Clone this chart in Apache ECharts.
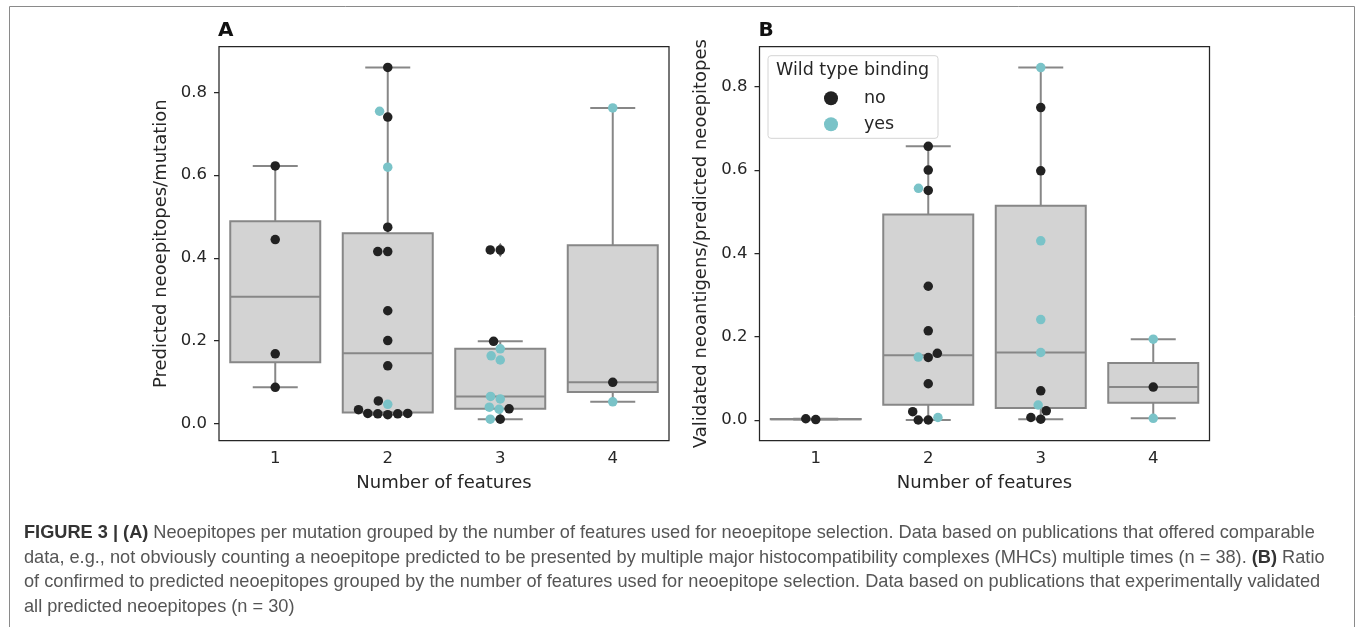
<!DOCTYPE html>
<html><head><meta charset="utf-8">
<script src="https://cdn.jsdelivr.net/npm/echarts@6/dist/echarts.min.js"></script>
<style>html,body{margin:0;padding:0;background:#fff}#c{width:1357px;height:627px}</style>
</head><body><div id="c"></div>
<script>
// ---------- data ----------
const categories = ['1', '2', '3', '4'];
const yTicks = [0, 0.2, 0.4, 0.6, 0.8];
const legendNames = ['no', 'yes'];   // wild type binding
// Panel A: predicted neoepitopes / mutation, per number of features
const panelA_no = [
  [0.622, 0.444, 0.168, 0.087],
  [0.860, 0.740, 0.474, 0.415, 0.415, 0.272, 0.200, 0.139, 0.054, 0.021, 0.023, 0.023, 0.024, 0.024, 0.033],
  [0.419, 0.419, 0.198, 0.035, 0.010],
  [0.099]
];
const panelA_yes = [
  [],
  [0.754, 0.619, 0.046],
  [0.180, 0.163, 0.153, 0.065, 0.059, 0.034, 0.039, 0.010],
  [0.762, 0.052]
];
// Panel B: validated neoantigens / predicted neoepitopes
const panelB_no = [
  [0.001, 0.003],
  [0.657, 0.600, 0.551, 0.321, 0.214, 0.160, 0.150, 0.087, 0.020, 0.000, 0.000],
  [0.750, 0.598, 0.070, 0.022, 0.006, 0.002],
  [0.079]
];
const panelB_yes = [
  [],
  [0.556, 0.151, 0.006],
  [0.846, 0.430, 0.241, 0.162, 0.036],
  [0.194, 0.004]
];
const captionLines = [
  '{b|FIGURE 3 | (A)} Neoepitopes per mutation grouped by the number of features used for neoepitope selection. Data based on publications that offered comparable',
  'data, e.g., not obviously counting a neoepitope predicted to be presented by multiple major histocompatibility complexes (MHCs) multiple times (n = 38). {b|(B)} Ratio',
  'of confirmed to predicted neoepitopes grouped by the number of features used for neoepitope selection. Data based on publications that experimentally validated',
  'all predicted neoepitopes (n = 30)'
];

// ---------- layout / style ----------
const GRID_W = 450, GRID_H = 394, GRID_TOP = 46.7;
const GRID_A_LEFT = 219, GRID_B_LEFT = 759.5;
const Y_A = [-0.042, 0.910], Y_B = [-0.0497, 0.896];
const PX_PER_CAT = GRID_W / 4;
const SWARM_D = 10, DOT = 9.5;
const C_NO = '#222222', C_YES = '#7ac3c8', BOX_FILL = '#d3d3d3', BOX_EDGE = '#878787';
const TXT = '#262626', FONT = 'DejaVu Sans';

// ---------- helpers ----------
function quantile(s, p) { const h = (s.length - 1) * p, lo = Math.floor(h), hi = Math.ceil(h); return s[lo] + (s[hi] - s[lo]) * (h - lo); }
function boxStats(vals) {
  const s = [...vals].sort((a, b) => a - b);
  const q1 = quantile(s, .25), med = quantile(s, .5), q3 = quantile(s, .75), iqr = q3 - q1;
  const lo = s.find(v => v >= q1 - 1.5 * iqr);
  const hi = [...s].reverse().find(v => v <= q3 + 1.5 * iqr);
  return { q1, med, q3, lo, hi, out: s.filter(v => v < lo || v > hi) };
}
function swarm(points, pxPerUnit, d) {
  const order = points.map((p, i) => i).sort((a, b) => points[a].v - points[b].v || a - b);
  const placed = [], out = new Array(points.length);
  for (const i of order) {
    const y = points[i].v * pxPerUnit;
    const cands = [0];
    for (const q of placed) {
      const dy = Math.abs(q.y - y);
      if (dy < d) { const dx = Math.sqrt(d * d - dy * dy); cands.push(q.x - dx, q.x + dx); }
    }
    cands.sort((a, b) => Math.abs(a) - Math.abs(b) || a - b);
    let chosen = 0;
    for (const c of cands) {
      if (placed.every(q => (q.x - c) ** 2 + (q.y - y) ** 2 >= d * d - 1e-6)) { chosen = c; break; }
    }
    placed.push({ x: chosen, y }); out[i] = chosen;
  }
  return out;
}
function buildPanel(noArr, yesArr, yr) {
  const pxPerUnit = GRID_H / (yr[1] - yr[0]);
  const no = [], yes = [], boxes = [], outliers = [];
  for (let c = 0; c < categories.length; c++) {
    const pts = noArr[c].map(v => ({ v, h: 0 })).concat(yesArr[c].map(v => ({ v, h: 1 })));
    const offs = swarm(pts, pxPerUnit, SWARM_D);
    pts.forEach((p, i) => (p.h ? yes : no).push([c + 1 + offs[i] / PX_PER_CAT, p.v]));
    const st = boxStats(pts.map(p => p.v));
    boxes.push([c + 1, st.lo, st.q1, st.med, st.q3, st.hi]);
    st.out.forEach(v => outliers.push([c + 1, v]));
  }
  return { no, yes, boxes, outliers };
}
const A = buildPanel(panelA_no, panelA_yes, Y_A);
const B = buildPanel(panelB_no, panelB_yes, Y_B);

function renderBox(params, api) {
  const x = api.value(0);
  const pLo = api.coord([x, api.value(1)]), pQ1 = api.coord([x, api.value(2)]), pMed = api.coord([x, api.value(3)]);
  const pQ3 = api.coord([x, api.value(4)]), pHi = api.coord([x, api.value(5)]);
  const hw = api.size([0.4, 0])[0], cw = api.size([0.2, 0])[0], cx = pMed[0];
  const st = { stroke: BOX_EDGE, lineWidth: 2, fill: null };
  return { type: 'group', children: [
    { type: 'line', shape: { x1: cx, y1: pQ3[1], x2: cx, y2: pHi[1] }, style: st },
    { type: 'line', shape: { x1: cx, y1: pQ1[1], x2: cx, y2: pLo[1] }, style: st },
    { type: 'line', shape: { x1: cx - cw, y1: pHi[1], x2: cx + cw, y2: pHi[1] }, style: st },
    { type: 'line', shape: { x1: cx - cw, y1: pLo[1], x2: cx + cw, y2: pLo[1] }, style: st },
    { type: 'rect', shape: { x: cx - hw, y: pQ3[1], width: 2 * hw, height: pQ1[1] - pQ3[1] }, style: { fill: BOX_FILL, stroke: BOX_EDGE, lineWidth: 2 } },
    { type: 'line', shape: { x1: cx - hw, y1: pMed[1], x2: cx + hw, y2: pMed[1] }, style: st }
  ]};
}

const tickText = { fontFamily: FONT, fontSize: 16.5, color: TXT };
const nameText = { fontFamily: FONT, fontSize: 18, color: TXT };
function catAxis(gi) {
  return { type: 'category', gridIndex: gi, data: categories, name: 'Number of features', nameLocation: 'middle', nameGap: 34,
    nameTextStyle: nameText, axisLine: { show: false }, axisTick: { alignWithLabel: true, length: 5, lineStyle: { color: TXT, width: 1.25 } },
    axisLabel: Object.assign({ margin: 10 }, tickText), splitLine: { show: false } };
}
function valXAxis(gi) { return { type: 'value', gridIndex: gi, min: 0.5, max: 4.5, show: false }; }
function yAxis(gi, yr, name) {
  return { type: 'value', gridIndex: gi, min: yr[0], max: yr[1], name, nameLocation: 'middle', nameGap: 49, nameTextStyle: nameText,
    axisLine: { show: false }, splitLine: { show: false },
    axisTick: { show: true, customValues: yTicks, length: 5, lineStyle: { color: TXT, width: 1.25 } },
    axisLabel: Object.assign({ customValues: yTicks, margin: 12, formatter: v => v.toFixed(1) }, tickText) };
}
function panelSeries(P, xi, yi) {
  return [
    { type: 'custom', xAxisIndex: xi, yAxisIndex: yi, renderItem: renderBox, data: P.boxes, encode: { x: 0, y: [1, 2, 3, 4, 5] }, z: 1, silent: true },
    { type: 'scatter', xAxisIndex: xi, yAxisIndex: yi, data: P.outliers, symbol: 'diamond', symbolSize: [9, 14], itemStyle: { color: '#6a6a6a' }, z: 2, silent: true },
    { type: 'scatter', name: legendNames[0], xAxisIndex: xi, yAxisIndex: yi, data: P.no, symbolSize: DOT, itemStyle: { color: C_NO, opacity: 1 }, z: 3 },
    { type: 'scatter', name: legendNames[1], xAxisIndex: xi, yAxisIndex: yi, data: P.yes, symbolSize: DOT, itemStyle: { color: C_YES, opacity: 1 }, z: 3 }
  ];
}

const chart = echarts.init(document.getElementById('c'), null, { renderer: 'canvas', width: 1357, height: 627 });
const gridStyle = { show: true, borderColor: TXT, borderWidth: 1.25, backgroundColor: 'transparent', containLabel: false };
chart.setOption({
  animation: false,
  textStyle: { fontFamily: FONT },
  grid: [
    Object.assign({ left: GRID_A_LEFT, top: GRID_TOP, width: GRID_W, height: GRID_H }, gridStyle),
    Object.assign({ left: GRID_B_LEFT, top: GRID_TOP, width: GRID_W, height: GRID_H }, gridStyle)
  ],
  xAxis: [catAxis(0), valXAxis(0), catAxis(1), valXAxis(1)],
  yAxis: [yAxis(0, Y_A, 'Predicted neoepitopes/mutation'), yAxis(1, Y_B, 'Validated neoantigens/predicted neoepitopes')],
  legend: {
    data: legendNames, orient: 'vertical', left: 824, top: 87.7, padding: 0, itemGap: 5, itemWidth: 52, itemHeight: 14,
    icon: 'circle', selectedMode: false, z: 20,
    textStyle: { fontFamily: FONT, fontSize: 17.5, color: TXT, lineHeight: 21, padding: [0, 0, 0, 2] }
  },
  graphic: [
    { type: 'polyline', silent: true, shape: { points: [[9.5, 627], [9.5, 6.5], [1354.5, 6.5], [1354.5, 627]] }, style: { stroke: '#8a8a8a', lineWidth: 1, fill: null } },
    { type: 'text', x: GRID_A_LEFT - 1, y: 31, style: { text: 'A', font: 'bold 20px "DejaVu Sans"', fill: '#111', verticalAlign: 'middle' } },
    { type: 'text', x: GRID_B_LEFT - 1, y: 31, style: { text: 'B', font: 'bold 20px "DejaVu Sans"', fill: '#111', verticalAlign: 'middle' } },
    { type: 'rect', z: 10, shape: { x: 768, y: 55.7, width: 170, height: 82.6, r: 3 }, style: { fill: 'rgba(255,255,255,0.85)', stroke: '#d4d4d4', lineWidth: 1 } },
    { type: 'text', z: 11, x: 776, y: 70.5, style: { text: 'Wild type binding', font: '17.5px "DejaVu Sans"', fill: TXT, verticalAlign: 'middle' } }
  ].concat(captionLines.map((t, i) => ({
    type: 'text', x: 24, y: 533 + i * 24.5, silent: true,
    style: {
      text: t, fontFamily: 'Liberation Sans', fontSize: 18.2, fill: '#555555', verticalAlign: 'middle',
      rich: { b: { fontFamily: 'Liberation Sans', fontSize: 18.2, fontWeight: 'bold', fill: '#333333' } }
    }
  }))),
  series: panelSeries(A, 1, 0).concat(panelSeries(B, 3, 1))
});
</script></body></html>
